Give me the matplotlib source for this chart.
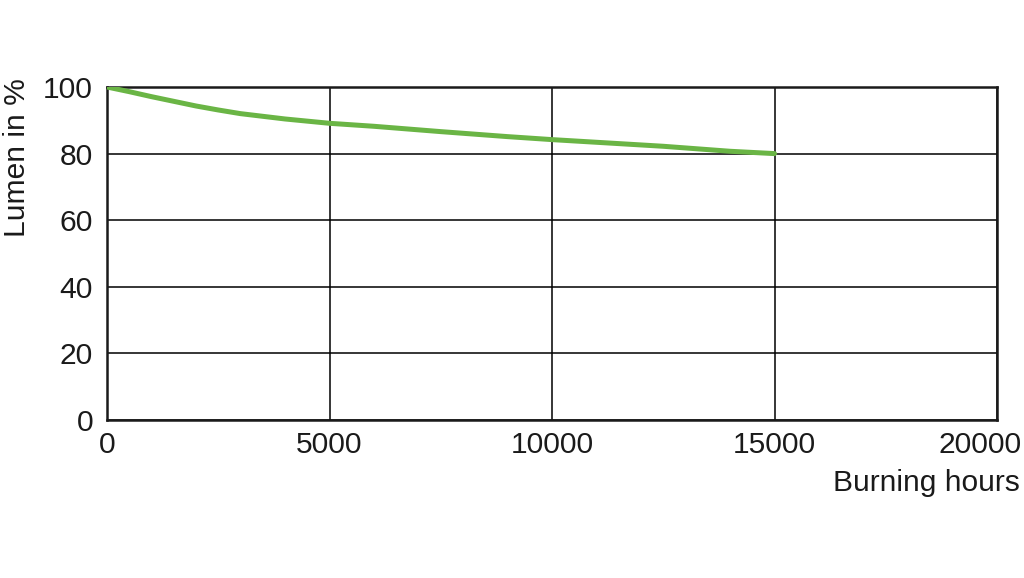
import matplotlib
matplotlib.use("Agg")
import matplotlib.pyplot as plt
import matplotlib.transforms as mtransforms

hours = [0, 500, 1000, 1500, 2000, 2500, 3000, 4000, 5000, 6000, 7500, 9000, 10000, 11000, 12500, 14000, 15000]
lumen = [100, 98.6, 97.1, 95.7, 94.3, 93.1, 92.0, 90.4, 89.1, 88.2, 86.6, 85.1, 84.2, 83.4, 82.2, 80.7, 80.0]

xticks = [0, 5000, 10000, 15000, 20000]
yticks = [0, 20, 40, 60, 80, 100]

plt.rcParams['font.family'] = ['Liberation Sans', 'DejaVu Sans']
FS = 21.6
TXT = '#1a1a1a'

fig = plt.figure(figsize=(10.24, 5.78), dpi=100)
ax = fig.add_axes([107/1024, 1 - 420/578, (997-107)/1024, (420-87)/578])

ax.plot(hours, lumen, color='#6ab545', lw=3.6, solid_capstyle='round', solid_joinstyle='round', zorder=3)

ax.set_xlim(0, 20000)
ax.set_ylim(0, 100)
ax.set_xticks(xticks)
ax.set_yticks(yticks)
ax.set_xticklabels([str(v) for v in xticks])
ax.set_yticklabels([str(v) for v in yticks])
ax.grid(True, color='black', lw=1.1)
ax.tick_params(length=0, labelsize=FS, colors=TXT)
ax.tick_params(axis='x', pad=8)
ax.tick_params(axis='y', pad=10)
for s in ax.spines.values():
    s.set_linewidth(1.8)
    s.set_color(TXT)

# shift last x label left
lab = ax.get_xticklabels()[-1]
lab.set_transform(lab.get_transform() + mtransforms.ScaledTranslation(-17/100, 0, fig.dpi_scale_trans))

fig.text(17/1024, 1 - 158/578, 'Lumen in %', rotation=90, ha='center', va='center', fontsize=FS, color=TXT)
fig.text(1020/1024, 1 - 483/578, 'Burning hours', ha='right', va='center', fontsize=FS, color=TXT)

fig.savefig('out.png', dpi=100, facecolor='white')
